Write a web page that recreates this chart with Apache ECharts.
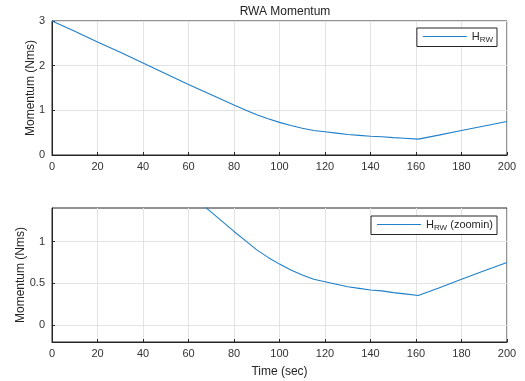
<!DOCTYPE html>
<html><head><meta charset="utf-8">
<script src="https://cdn.jsdelivr.net/npm/echarts@6/dist/echarts.min.js"></script>
<style>html,body{margin:0;padding:0;background:#fff}#c{width:525px;height:381px}</style>
</head><body><div id="c"></div>
<script>
const timeSec = [0,10,20,30,40,50,60,70,80,85,90,95,100,105,110,115,120,125,130,135,140,145,150,155,161,170,180,190,200];
const momentum = [3.00,2.77,2.53,2.30,2.06,1.82,1.58,1.35,1.12,1.01,0.90,0.81,0.73,0.66,0.60,0.55,0.52,0.49,0.46,0.44,0.42,0.41,0.39,0.375,0.355,0.445,0.55,0.65,0.75];
const xTicks = [0,20,40,60,80,100,120,140,160,180,200];
const topYTicks = [0,1,2,3];
const bottomYTicks = [0,0.5,1];
const seriesNames = ['H{s|RW}', 'H{s|RW} (zoomin)'];

const data = timeSec.map((t,i)=>[t, momentum[i]]);
const font = 'Liberation Sans, Arial, sans-serif';
const axisColor = '#262626';
const labelColor = '#333333';
const gridColor = '#e3e3e3';
const lineColor = '#1f7fc9';

function xAxis(gi){
  return {type:'value', gridIndex:gi, min:0, max:200, interval:20,
    axisLine:{show:true,onZero:false,lineStyle:{color:axisColor,width:1}},
    axisTick:{show:true,inside:true,length:3,lineStyle:{color:axisColor}},
    axisLabel:{color:labelColor,fontFamily:font,fontSize:11,margin:6},
    splitLine:{show:true,lineStyle:{color:gridColor,width:1}},
    name: gi===1 ? 'Time (sec)' : '', nameLocation:'middle', nameGap:24, nameMoveOverlap:false,
    nameTextStyle:{color:axisColor,fontFamily:font,fontSize:12}
  };
}
function yAxis(gi, opts){
  return Object.assign({type:'value', gridIndex:gi,
    axisLine:{show:true,onZero:false,lineStyle:{color:axisColor,width:1}},
    axisTick:{show:true,inside:true,length:3,lineStyle:{color:axisColor}},
    axisLabel:{color:labelColor,fontFamily:font,fontSize:11,margin:7},
    splitLine:{show:true,lineStyle:{color:gridColor,width:1}},
    name:'Momentum (Nms)', nameLocation:'middle', nameRotate:90, nameMoveOverlap:false,
    nameTextStyle:{color:axisColor,fontFamily:font,fontSize:12}
  }, opts);
}

const legendRich = {s:{fontSize:8, verticalAlign:'bottom', padding:[6,0,0,0], color:axisColor, fontFamily:font}};

const option = {
  backgroundColor:'#fff',
  animation:false,
  title:{text:'RWA Momentum', left:280, top:1, textAlign:'center',
    textStyle:{fontFamily:font,fontSize:12,fontWeight:'normal',color:'#222'}},
  grid:[
    {left:52, top:21, right:18, height:134, show:true, borderColor:axisColor, borderWidth:1, backgroundColor:'transparent'},
    {left:52, top:208, right:18, height:134, show:true, borderColor:axisColor, borderWidth:1, backgroundColor:'transparent'}
  ],
  xAxis:[xAxis(0), xAxis(1)],
  yAxis:[
    yAxis(0,{min:0,max:3,interval:1,nameGap:15}),
    yAxis(1,{min:-0.2,max:1.4,nameGap:25,
      axisLabel:{color:labelColor,fontFamily:font,fontSize:11,margin:7,customValues:bottomYTicks},
      axisTick:{show:true,inside:true,length:3,lineStyle:{color:axisColor},customValues:bottomYTicks}})
  ],
  legend:[
    {data:[seriesNames[0]], right:28, top:28, orient:'vertical', itemWidth:44, itemHeight:1, itemGap:4,
      padding:[3,4,3,6], borderColor:axisColor, borderWidth:1, backgroundColor:'#fff',
      textStyle:{fontFamily:font,fontSize:11,color:axisColor,rich:legendRich}, icon:'rect'},
    {data:[seriesNames[1]], right:28, top:216, orient:'vertical', itemWidth:44, itemHeight:1, itemGap:4,
      padding:[3,4,3,6], borderColor:axisColor, borderWidth:1, backgroundColor:'#fff',
      textStyle:{fontFamily:font,fontSize:11,color:axisColor,rich:legendRich}, icon:'rect'}
  ],
  series:[
    {name:seriesNames[0], type:'line', xAxisIndex:0, yAxisIndex:0, data:data, showSymbol:false, symbol:'none',
      lineStyle:{color:lineColor,width:1.1}, itemStyle:{color:lineColor}, clip:true},
    {name:seriesNames[1], type:'line', xAxisIndex:1, yAxisIndex:1, data:data, showSymbol:false, symbol:'none',
      lineStyle:{color:lineColor,width:1.1}, itemStyle:{color:lineColor}, clip:true}
  ]
};
const chart = echarts.init(document.getElementById('c'), null, {renderer:'canvas'});
chart.setOption(option);
</script></body></html>
